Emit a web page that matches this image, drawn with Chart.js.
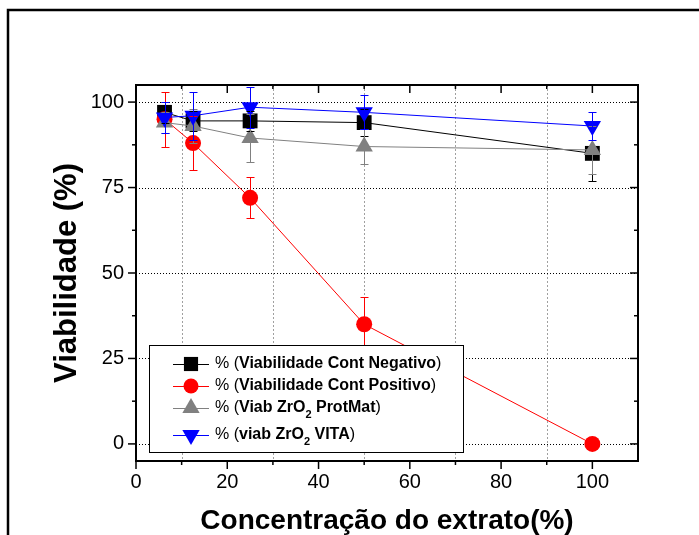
<!DOCTYPE html>
<html>
<head>
<meta charset="utf-8">
<script src="https://cdn.jsdelivr.net/npm/chart.js@4.4.0/dist/chart.umd.min.js"></script>
<style>
  html, body { margin: 0; padding: 0; background: #fff; }
  #wrap { width: 699px; height: 535px; position: relative; }
</style>
</head>
<body>
<div id="wrap"><canvas id="myChart" width="699" height="535"></canvas></div>
<script>
// extract concentrations (%)
const concentracoes = [6.25, 12.5, 25, 50, 100];

// viability values and error bars
const contNegativo = [97, 94.5, 94.5, 94, 85];
const errNegativo  = [3, 3, 3, 4, 8];
const contPositivo = [95, 88, 72, 35, 0];
const errPositivo  = [8, 8, 6, 8, 0];
const zrProtMat    = [94, 93, 89.5, 87, 86];
const errProtMat   = [3, 5, 7, 5, 7];
const zrVita       = [95.5, 96, 98.5, 97, 93];
const errVita      = [4.5, 7, 6, 5, 4];

const xTicks = [0, 20, 40, 60, 80, 100];
const xMinor = [10, 30, 50, 70, 90];
const yTicks = [0, 25, 50, 75, 100];
const yMinor = [12.5, 37.5, 62.5, 87.5];

const FONT = "Arial, 'Liberation Sans', sans-serif";

const series = [
  { label: 'Viabilidade Cont Negativo', vals: contNegativo, errs: errNegativo, color: '#000000', style: 'rect', radius: 10.5, rot: 0, order: 4 },
  { label: 'Viabilidade Cont Positivo', vals: contPositivo, errs: errPositivo, color: '#ff0000', style: 'circle', radius: 8, rot: 0, order: 3 },
  { label: 'Viab ZrO2 ProtMat', vals: zrProtMat, errs: errProtMat, color: '#808080', style: 'triangle', radius: 10, rot: 0, order: 2 },
  { label: 'viab ZrO2 VITA', vals: zrVita, errs: errVita, color: '#0000ff', style: 'triangle', radius: 10, rot: 180, order: 1 }
];

// legend rows: [text, kind]
const legendRows = [
  [['% (', 'n'], ['Viabilidade Cont Negativo', 'b'], [')', 'n']],
  [['% (', 'n'], ['Viabilidade Cont Positivo', 'b'], [')', 'n']],
  [['% (', 'n'], ['Viab ZrO', 'b'], ['2', 's'], [' ProtMat', 'b'], [')', 'n']],
  [['% (', 'n'], ['viab ZrO', 'b'], ['2', 's'], [' VITA', 'b'], [')', 'n']]
];

function line(ctx, x1, y1, x2, y2) {
  ctx.beginPath();
  ctx.moveTo(x1, y1);
  ctx.lineTo(x2, y2);
  ctx.stroke();
}

function marker(ctx, s, x, y, r) {
  ctx.fillStyle = s.color;
  ctx.beginPath();
  if (s.style === 'rect') {
    const h = r * Math.SQRT1_2;
    ctx.rect(x - h, y - h, 2 * h, 2 * h);
  } else if (s.style === 'circle') {
    ctx.arc(x, y, r, 0, Math.PI * 2);
  } else {
    const dir = s.rot ? -1 : 1;
    ctx.moveTo(x, y - dir * r);
    ctx.lineTo(x + r * 0.866, y + dir * r / 2);
    ctx.lineTo(x - r * 0.866, y + dir * r / 2);
    ctx.closePath();
  }
  ctx.fill();
}

const framePlugin = {
  id: 'frame',
  beforeDatasetsDraw(chart) {
    const { ctx, chartArea: a, scales: { x, y } } = chart;
    ctx.save();
    ctx.lineWidth = 1;
    ctx.strokeStyle = '#a0a0a0';
    ctx.setLineDash([2, 2]);
    xMinor.forEach(v => {
      const px = Math.round(x.getPixelForValue(v)) + 0.5;
      line(ctx, px, a.top, px, a.bottom);
    });
    ctx.strokeStyle = '#000';
    ctx.setLineDash([1, 2]);
    yTicks.forEach(v => {
      const py = Math.round(y.getPixelForValue(v)) + 0.5;
      line(ctx, a.left, py, a.right, py);
    });
    ctx.restore();
  },
  afterDatasetsDraw(chart) {
    const { ctx, scales: { x, y } } = chart;
    ctx.save();
    ctx.lineWidth = 1;
    // error bars
    series.forEach(s => {
      ctx.strokeStyle = s.color;
      s.vals.forEach((v, j) => {
        const e = s.errs[j];
        if (!e) return;
        const px = Math.round(x.getPixelForValue(concentracoes[j])) + 0.5;
        const top = Math.round(y.getPixelForValue(v + e)) + 0.5;
        const bot = Math.round(y.getPixelForValue(v - e)) + 0.5;
        line(ctx, px, top, px, bot);
        line(ctx, px - 4, top, px + 4, top);
        line(ctx, px - 4, bot, px + 4, bot);
      });
    });

    // legend box
    ctx.fillStyle = '#fff';
    ctx.fillRect(149, 345, 315, 108);
    ctx.strokeStyle = '#000';
    ctx.strokeRect(149.5, 345.5, 314, 107);
    const rowY = [364, 386, 408, 435];
    series.forEach((s, i) => {
      const ry = rowY[i];
      ctx.strokeStyle = s.color;
      line(ctx, 173, ry + 0.5, 209, ry + 0.5);
      marker(ctx, s, 191, ry, s.style === 'circle' ? 7.5 : 10);
      let tx = 215;
      ctx.fillStyle = '#000';
      ctx.textBaseline = 'middle';
      legendRows[i].forEach(([t, k]) => {
        if (k === 's') {
          ctx.font = 'bold 11px ' + FONT;
          ctx.fillText(t, tx, ry + 7);
        } else {
          ctx.font = (k === 'b' ? 'bold ' : '') + '16px ' + FONT;
          ctx.fillText(t, tx, ry);
        }
        tx += ctx.measureText(t).width;
      });
    });
    ctx.restore();
  },
  afterDraw(chart) {
    const { ctx, chartArea: a, scales: { x, y } } = chart;
    ctx.save();
    ctx.strokeStyle = '#000';
    ctx.lineWidth = 1.5;
    xTicks.forEach(v => {
      const px = x.getPixelForValue(v);
      line(ctx, px, a.bottom, px, a.bottom + 8);
      line(ctx, px, a.top, px, a.top + 8);
    });
    xMinor.forEach(v => {
      const px = x.getPixelForValue(v);
      line(ctx, px, a.bottom, px, a.bottom + 4);
      line(ctx, px, a.top, px, a.top + 4);
    });
    yTicks.forEach(v => {
      const py = y.getPixelForValue(v);
      line(ctx, a.left - 8, py, a.left, py);
      line(ctx, a.right - 8, py, a.right, py);
    });
    yMinor.forEach(v => {
      const py = y.getPixelForValue(v);
      line(ctx, a.left - 4, py, a.left, py);
      line(ctx, a.right - 4, py, a.right, py);
    });
    ctx.lineWidth = 2;
    ctx.strokeRect(a.left, a.top, a.right - a.left, a.bottom - a.top);
    // outer figure frame
    ctx.lineWidth = 2.5;
    ctx.strokeRect(8, 10, 800, 800);
    ctx.restore();
  }
};

const datasets = series.map(s => ({
  label: s.label,
  data: concentracoes.map((c, i) => ({ x: c, y: s.vals[i] })),
  showLine: true,
  borderColor: s.color,
  backgroundColor: s.color,
  borderWidth: 1,
  pointStyle: s.style,
  pointRotation: s.rot,
  pointRadius: s.radius,
  pointBorderWidth: 0,
  pointBackgroundColor: s.color,
  order: s.order
}));

const config = {
  type: 'scatter',
  data: { datasets: datasets },
  options: {
    responsive: false,
    animation: false,
    layout: { padding: { left: 0, top: 85, right: 61, bottom: 0 } },
    elements: { line: { tension: 0 } },
    plugins: { legend: { display: false }, tooltip: { enabled: false } },
    scales: {
      x: {
        type: 'linear',
        min: 0,
        max: 110,
        afterBuildTicks: s => { s.ticks = xTicks.map(v => ({ value: v })); },
        afterFit: s => { s.height = 74; },
        grid: { display: false, drawTicks: false },
        border: { display: false },
        ticks: { color: '#000', font: { family: FONT, size: 20 }, padding: 9, autoSkip: false, maxRotation: 0 },
        title: {
          display: true,
          text: 'Concentração do extrato(%)',
          color: '#000',
          font: { family: FONT, size: 28, weight: 'bold', lineHeight: 1 },
          padding: { top: 0, bottom: 0 }
        }
      },
      y: {
        type: 'linear',
        min: -5,
        max: 105,
        afterBuildTicks: s => { s.ticks = yTicks.map(v => ({ value: v })); },
        afterFit: s => { s.width = 136; },
        grid: { display: false, drawTicks: false },
        border: { display: false },
        ticks: { color: '#000', font: { family: FONT, size: 20 }, padding: 12, autoSkip: false },
        title: {
          display: true,
          text: 'Viabilidade (%)',
          color: '#000',
          font: { family: FONT, size: 31, weight: 'bold', lineHeight: 1 },
          padding: { top: 52, bottom: 0 }
        }
      }
    }
  },
  plugins: [framePlugin]
};

window.onload = function() {
  const ctx = document.getElementById('myChart').getContext('2d');
  new Chart(ctx, config);
};
</script>
</body>
</html>
